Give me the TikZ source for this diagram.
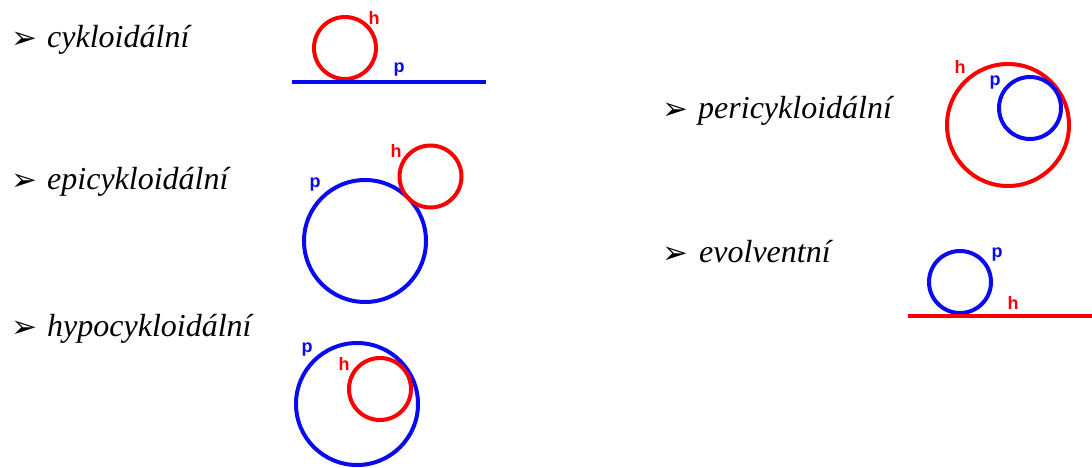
\documentclass[tikz,border=0pt]{standalone}
\usepackage{fontspec}
\setmainfont{Liberation Serif}
\newfontfamily\dejavu{DejaVu Sans}
\newfontfamily\arial{Liberation Sans}
\definecolor{hred}{RGB}{250,0,0}
\definecolor{hblue}{RGB}{10,10,240}
\begin{document}
\begin{tikzpicture}[x=1pt,y=-1pt,
  item/.style={anchor=base west,inner sep=0,font=\fontsize{32}{38}\selectfont\itshape},
  bul/.style={anchor=base west,inner sep=0,font=\dejavu\fontsize{31}{36}\selectfont},
  lab/.style={inner sep=0,font=\arial\bfseries\fontsize{18}{20}\selectfont},
  rc/.style={draw=hred,line width=4pt},
  bc/.style={draw=hblue,line width=4pt}]
\useasboundingbox (0,0) rectangle (1092,468);
% left column texts
\node[bul] (b1) at (11,49) {➢};
\node[item] (t1) at (47,48) {cykloidální};
\node[bul] (b2) at (11,190) {➢};
\node[item] (t2) at (47,189) {epicykloidální};
\node[bul] (b3) at (11,337) {➢};
\node[item] (t3) at (47,336) {hypocykloidální};
% right column texts
\node[bul] (b4) at (662,120) {➢};
\node[item] (t4) at (698,119) {pericykloidální};
\node[bul] (b5) at (662,263) {➢};
\node[item] (t5) at (699,262) {evolventní};
% cykloidalni
\draw[rc] (345,48) circle[radius=31pt];
\draw[bc] (292,82) -- (486,82);
\node[lab,text=hred] (h1) at (374,18) {h};
\node[lab,text=hblue] (p1) at (399,70) {p};
% epicykloidalni
\draw[bc] (365,241) circle[radius=61pt];
\draw[rc] (430.5,176.5) circle[radius=31pt];
\node[lab,text=hred] (h2) at (396,151) {h};
\node[lab,text=hblue] (p2) at (315,185) {p};
% hypocykloidalni
\draw[bc] (357,404) circle[radius=61pt];
\draw[rc] (380,389) circle[radius=31pt];
\node[lab,text=hred] (h3) at (344,364) {h};
\node[lab,text=hblue] (p3) at (307,350) {p};
% pericykloidalni
\draw[rc] (1008,125) circle[radius=61pt];
\draw[bc] (1030,108) circle[radius=31pt];
\node[lab,text=hred] (h4) at (960,67) {h};
\node[lab,text=hblue] (p4) at (995,83) {p};
% evolventni
\draw[bc] (960,282) circle[radius=31pt];
\draw[rc] (908,316) -- (1092,316);
\node[lab,text=hblue] (p5) at (997,255) {p};
\node[lab,text=hred] (h5) at (1013,303) {h};
\end{tikzpicture}
\end{document}
